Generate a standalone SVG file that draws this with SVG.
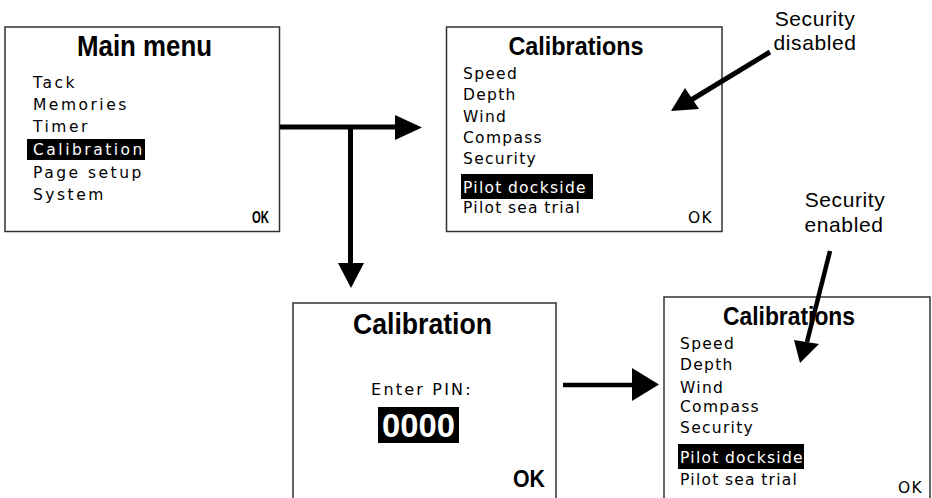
<svg xmlns="http://www.w3.org/2000/svg" width="932" height="498" viewBox="0 0 932 498">
<style>
.screen{fill:#fff;stroke:#333;stroke-width:1.5}
.title{font-family:"Liberation Sans Narrow","Liberation Sans",Arial,sans-serif;font-weight:bold;text-anchor:middle;fill:#000}
.item1{font-family:"DejaVu Sans",sans-serif;font-size:15.5px;letter-spacing:2.5px;fill:#000}
.item{font-family:"DejaVu Sans",sans-serif;font-size:15.5px;letter-spacing:1.3px;word-spacing:-1px;fill:#000}
.inv{fill:#fff}
.hl{fill:#000}
.okb{font-family:"Liberation Sans Narrow","Liberation Sans",Arial,sans-serif;font-weight:bold;fill:#000}
.note{font-family:"Liberation Sans",Arial,sans-serif;font-size:21px;letter-spacing:0.6px;text-anchor:middle;fill:#000}
.conn{stroke:#000;fill:none}
.head{fill:#000}
</style>
<rect width="932" height="498" fill="#fff"/>

<g id="main-menu">
<rect class="screen" x="5" y="27" width="274.5" height="204.5"/>
<text class="title" x="144.5" y="56" font-size="29" textLength="135" lengthAdjust="spacingAndGlyphs">Main menu</text>
<text class="item1" x="33" y="88">Tack</text>
<text class="item1" x="33" y="110">Memories</text>
<text class="item1" x="33" y="132">Timer</text>
<rect class="hl" x="27" y="139" width="118" height="21"/>
<text class="item1 inv" x="33" y="155">Calibration</text>
<text class="item1" x="33" y="178">Page setup</text>
<text class="item1" x="33" y="200">System</text>
<text class="okb" x="252" y="223" font-size="16" textLength="17" lengthAdjust="spacingAndGlyphs">OK</text>
</g>

<g id="calibrations-disabled">
<rect class="screen" x="446.5" y="27" width="275.5" height="204.5"/>
<text class="title" x="576" y="55" font-size="25" textLength="135" lengthAdjust="spacingAndGlyphs">Calibrations</text>
<text class="item" x="463" y="79">Speed</text>
<text class="item" x="463" y="100">Depth</text>
<text class="item" x="463" y="122">Wind</text>
<text class="item" x="463" y="143">Compass</text>
<text class="item" x="463" y="164">Security</text>
<rect class="hl" x="461" y="174" width="132" height="25"/>
<text class="item inv" x="463" y="193">Pilot dockside</text>
<text class="item" x="463" y="213">Pilot sea trial</text>
<text class="item" x="688" y="223">OK</text>
</g>

<g id="pin-entry">
<rect class="screen" x="293" y="303" width="263" height="220"/>
<text class="title" x="422.5" y="334" font-size="29" textLength="139" lengthAdjust="spacingAndGlyphs">Calibration</text>
<text x="422" y="395" font-family="DejaVu Sans,sans-serif" font-size="16" letter-spacing="2.2" text-anchor="middle">Enter PIN:</text>
<rect class="hl" x="378" y="407" width="81" height="36"/>
<text class="title inv" x="418.5" y="437" font-size="34" textLength="73" lengthAdjust="spacingAndGlyphs">0000</text>
<text class="okb" x="513" y="487" font-size="23" textLength="32" lengthAdjust="spacingAndGlyphs">OK</text>
</g>

<g id="calibrations-enabled">
<rect class="screen" x="664" y="297" width="266" height="230"/>
<text class="title" x="789" y="325" font-size="25" textLength="132" lengthAdjust="spacingAndGlyphs">Calibrations</text>
<text class="item" x="680" y="349">Speed</text>
<text class="item" x="680" y="370">Depth</text>
<text class="item" x="680" y="393">Wind</text>
<text class="item" x="680" y="412">Compass</text>
<text class="item" x="680" y="433">Security</text>
<rect class="hl" x="678" y="444" width="126" height="25"/>
<text class="item inv" x="680" y="463">Pilot dockside</text>
<text class="item" x="680" y="485">Pilot sea trial</text>
<text class="item" x="898" y="493">OK</text>
</g>

<g id="label-disabled">
<text class="note" x="815" y="26">Security</text>
<text class="note" x="815" y="50">disabled</text>
</g>

<g id="label-enabled">
<text class="note" x="845" y="207">Security</text>
<text class="note" x="844" y="232">enabled</text>
</g>

<g id="connectors">
<line class="conn" x1="280" y1="127" x2="396" y2="127" stroke-width="5"/>
<polygon class="head" points="395,115 422,127.5 395,140"/>
<line class="conn" x1="350.5" y1="127" x2="350.5" y2="264" stroke-width="5"/>
<polygon class="head" points="338,263 351,288 364,263"/>
<line class="conn" x1="563" y1="385" x2="633" y2="385" stroke-width="4.5"/>
<polygon class="head" points="632,368 659,384.5 632,401"/>
<line class="conn" x1="770" y1="52" x2="691" y2="100" stroke-width="5"/>
<polygon class="head" points="671,111 685,88 699,109"/>
<line class="conn" x1="830" y1="251" x2="807" y2="342" stroke-width="4.5"/>
<polygon class="head" points="800,363 794,340 819,344"/>
</g>
</svg>
